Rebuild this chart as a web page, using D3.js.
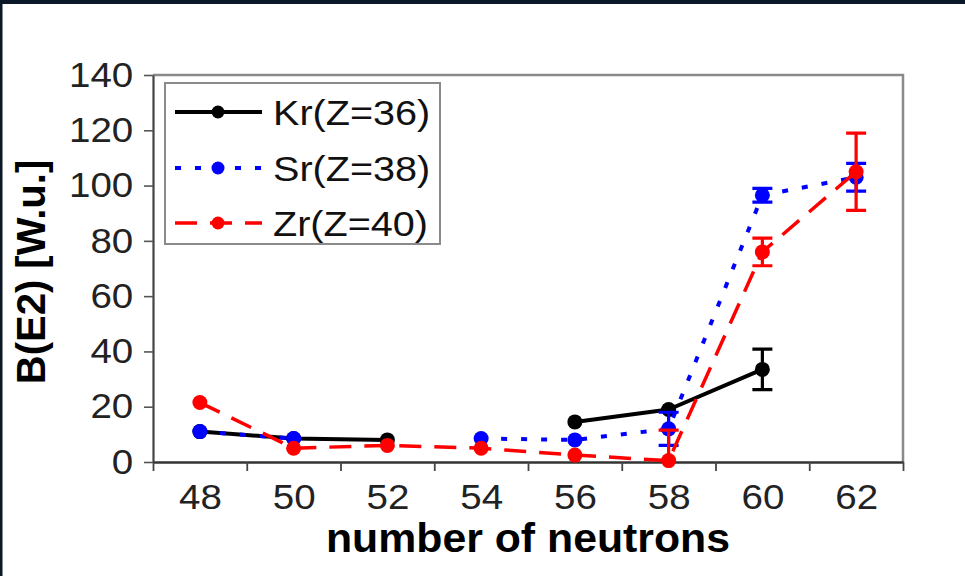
<!DOCTYPE html>
<html>
<head>
<meta charset="utf-8">
<script src="https://cdn.jsdelivr.net/npm/d3@7/dist/d3.min.js"></script>
<style>
  html, body { margin: 0; padding: 0; background: #ffffff; }
  svg { display: block; }
  text { font-family: "Liberation Sans", Arial, sans-serif; }
</style>
</head>
<body>
<svg id="chart" width="965" height="576"></svg>
<script>
// Neutron numbers (category axis)
const neutrons = [48, 50, 52, 54, 56, 58, 60, 62];

// B(E2) values in W.u.; null = no measurement
const krValues = [11, 8.5, 8, null, 14.5, 19, 33.5, null];
const srValues = [11, 8.5, null, 8.5, 8, 12, 96.5, 103];
const zrValues = [21.5, 5, 6, 5, 2.5, 0.5, 76, 105];

// Symmetric error bars (W.u.)
const krErrors = [null, null, null, null, null, null, 7.3, null];
const srErrors = [null, null, null, null, null, 6, 2.5, 5];
const zrErrors = [null, null, null, null, null, 11, 5, 14];

const yTickValues = [0, 20, 40, 60, 80, 100, 120, 140];

const series = [
  { name: "Kr(Z=36)", values: krValues, errors: krErrors, color: "#000000", dash: null,    width: 4 },
  { name: "Sr(Z=38)", values: srValues, errors: srErrors, color: "#0000ff", dash: "6,14",  width: 4 },
  { name: "Zr(Z=40)", values: zrValues, errors: zrErrors, color: "#ff0000", dash: "22,13", width: 3.5 }
];

const svg = d3.select("#chart");
const textStretch = "scale(1.1,1)";

// Dark frame strip along top and left edge
svg.append("rect").attr("x", 0).attr("y", 0).attr("width", 965).attr("height", 4).attr("fill", "#0b1828");
svg.append("rect").attr("x", 0).attr("y", 0).attr("width", 2.5).attr("height", 576).attr("fill", "#0b1828");

const plotLeft = 153, plotRight = 903, plotTop = 75, plotBottom = 462;

// Linear scale on neutron number; categories sit at even N, boundaries at odd N
const x = d3.scaleLinear().domain([47, 63]).range([plotLeft, plotRight]);
const y = d3.scaleLinear().domain([0, 140]).range([plotBottom, plotTop]);

// Plot frame (top and right)
svg.append("path")
  .attr("d", `M${plotLeft},${plotTop}H${plotRight}V${plotBottom}`)
  .attr("fill", "none").attr("stroke", "#8a8a8a").attr("stroke-width", 2.5);

// Clip for error bars
svg.append("clipPath").attr("id", "plotClip")
  .append("rect").attr("x", plotLeft).attr("y", plotTop - 2)
  .attr("width", plotRight - plotLeft).attr("height", plotBottom - plotTop + 2);

// Y axis
const yAxis = svg.append("g")
  .attr("transform", `translate(${plotLeft},0)`)
  .call(d3.axisLeft(y).tickValues(yTickValues).tickSize(9).tickPadding(9).tickSizeOuter(0));
yAxis.select(".domain").attr("stroke", "#444").attr("stroke-width", 2.2);
yAxis.selectAll(".tick line").attr("stroke", "#555").attr("stroke-width", 1.6);
yAxis.selectAll(".tick text")
  .attr("font-size", 35).attr("fill", "#222")
  .attr("font-family", "'Liberation Sans', Arial, sans-serif")
  .attr("transform", textStretch);

// X axis: ticks at category boundaries
const boundaries = d3.range(47, 64, 2);
const xTicks = svg.append("g")
  .attr("transform", `translate(0,${plotBottom})`)
  .call(d3.axisBottom(x).tickValues(boundaries).tickSize(9).tickFormat("").tickSizeOuter(0));
xTicks.select(".domain").attr("stroke", "#333").attr("stroke-width", 2.5);
xTicks.selectAll(".tick line").attr("stroke", "#444").attr("stroke-width", 1.8);

// X axis labels at category centres
const xLabels = svg.append("g")
  .attr("transform", `translate(0,${plotBottom})`)
  .call(d3.axisBottom(x).tickValues(neutrons).tickSize(0).tickPadding(22).tickFormat(d3.format("d")));
xLabels.select(".domain").remove();
xLabels.selectAll(".tick text")
  .attr("font-size", 35).attr("fill", "#222")
  .attr("font-family", "'Liberation Sans', Arial, sans-serif")
  .attr("transform", textStretch);

// Axis titles
svg.append("text")
  .attr("transform", `translate(${(plotLeft + plotRight) / 2},552) scale(1.07,1)`)
  .attr("text-anchor", "middle")
  .attr("font-size", 40).attr("font-weight", "bold").attr("fill", "#000")
  .text("number of neutrons");

svg.append("text")
  .attr("transform", "translate(45,272) rotate(-90)")
  .attr("text-anchor", "middle")
  .attr("font-size", 40).attr("font-weight", "bold").attr("fill", "#000")
  .text("B(E2) [W.u.]");

// Series
const line = d3.line()
  .defined(d => d.v != null)
  .x(d => x(d.n))
  .y(d => y(d.v));

series.forEach(s => {
  const pts = neutrons.map((n, i) => ({ n, v: s.values[i], e: s.errors[i] }));
  const g = svg.append("g");

  g.append("path")
    .datum(pts)
    .attr("d", line)
    .attr("fill", "none")
    .attr("stroke", s.color)
    .attr("stroke-width", s.width)
    .attr("stroke-dasharray", s.dash)
    .attr("stroke-linejoin", "round");

  // Error bars
  const eg = g.append("g").attr("clip-path", "url(#plotClip)");
  const withErr = pts.filter(d => d.v != null && d.e != null);
  eg.selectAll("path.err").data(withErr).join("path")
    .attr("class", "err")
    .attr("d", d => {
      const cx = x(d.n), y1 = y(d.v + d.e), y0 = y(d.v - d.e), hw = 10;
      return `M${cx},${y0}V${y1}M${cx - hw},${y1}H${cx + hw}M${cx - hw},${y0}H${cx + hw}`;
    })
    .attr("fill", "none")
    .attr("stroke", s.color)
    .attr("stroke-width", 3.2);

  // Markers
  g.selectAll("circle").data(pts.filter(d => d.v != null)).join("circle")
    .attr("cx", d => x(d.n))
    .attr("cy", d => y(d.v))
    .attr("r", 7.5)
    .attr("fill", s.color);
});

// Legend
const legend = svg.append("g");
legend.append("rect")
  .attr("x", 165).attr("y", 83).attr("width", 275).attr("height", 161)
  .attr("fill", "#ffffff").attr("stroke", "#8a8a8a").attr("stroke-width", 2);

const rowY = [112, 168, 223];
series.forEach((s, i) => {
  const ry = rowY[i];
  legend.append("line")
    .attr("x1", 175).attr("x2", 262).attr("y1", ry).attr("y2", ry)
    .attr("stroke", s.color).attr("stroke-width", s.width)
    .attr("stroke-dasharray", s.dash);
  legend.append("circle")
    .attr("cx", 218).attr("cy", ry).attr("r", 6.5).attr("fill", s.color);
  legend.append("text")
    .attr("transform", `translate(273,${ry}) ${textStretch}`)
    .attr("dy", "0.36em")
    .attr("font-size", 36).attr("fill", "#111")
    .text(s.name);
});
</script>
</body>
</html>
